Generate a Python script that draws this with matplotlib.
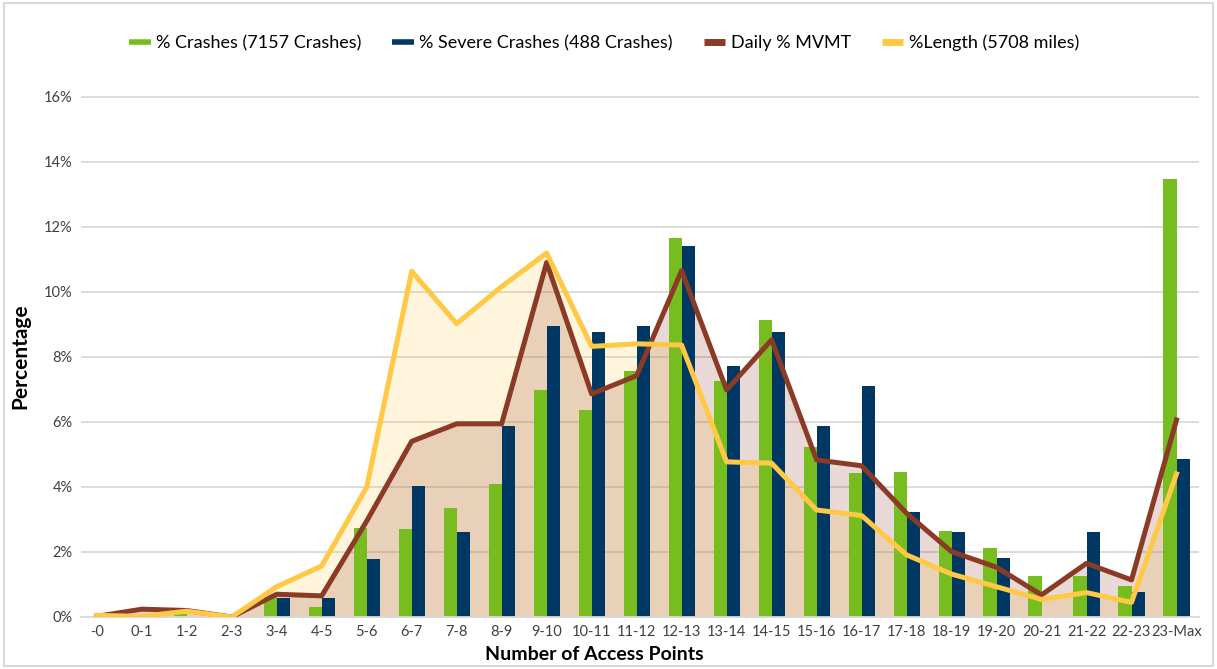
import numpy as np
import matplotlib
matplotlib.use('Agg')
from matplotlib import pyplot as plt
from matplotlib.patches import Rectangle
from matplotlib.lines import Line2D

plt.rcParams['font.family'] = ['Lato', 'DejaVu Sans']

categories = ['-0', '0-1', '1-2', '2-3', '3-4', '4-5', '5-6', '6-7', '7-8', '8-9',
              '9-10', '10-11', '11-12', '12-13', '13-14', '14-15', '15-16', '16-17',
              '17-18', '18-19', '19-20', '20-21', '21-22', '22-23', '23-Max']

# % of values
pct_crashes = [0.0, 0.0, 0.1, 0.0, 0.6, 0.32, 2.75, 2.7, 3.36, 4.09,
               6.97, 6.35, 7.57, 11.66, 7.26, 9.14, 5.24, 4.44,
               4.45, 2.65, 2.11, 1.27, 1.27, 0.95, 13.47]
pct_severe = [0.0, 0.0, 0.0, 0.0, 0.57, 0.57, 1.78, 4.04, 2.6, 5.88,
              8.95, 8.75, 8.95, 11.4, 7.73, 8.75, 5.88, 7.11,
              3.22, 2.6, 1.8, 0.0, 2.6, 0.76, 4.85]
pct_mvmt = [0.02, 0.24, 0.2, 0.0, 0.7, 0.65, 2.95, 5.4, 5.94, 5.94,
            10.9, 6.86, 7.42, 10.65, 6.98, 8.52, 4.83, 4.65,
            3.19, 2.01, 1.53, 0.68, 1.65, 1.14, 6.06]
pct_length = [0.05, 0.02, 0.18, 0.0, 0.93, 1.57, 3.99, 10.63, 9.02, 10.16,
              11.19, 8.32, 8.4, 8.36, 4.77, 4.73, 3.29, 3.12,
              1.91, 1.32, 0.93, 0.54, 0.75, 0.45, 4.4]
labels = ['% Crashes (7157 Crashes)', '% Severe Crashes (488 Crashes)',
          'Daily % MVMT', '%Length (5708 miles)']

green = '#77bd20'
navy = '#003763'
brown = '#8b3a26'
gold = '#ffc845'

x = np.arange(len(categories))
w = 0.29

fig = plt.figure(figsize=(12.17, 6.69), dpi=100)
fig.patches.append(Rectangle((0.003, 0.004), 0.994, 0.992, transform=fig.transFigure,
                             fill=False, edgecolor='#d9d9d9', linewidth=1.5))
ax = fig.add_axes([81/1217, 1-617/669, (1199-81)/1217, (617-95)/669])

ax.fill_between(x, pct_length, color=gold, alpha=0.19, linewidth=0, zorder=1)
ax.fill_between(x, pct_mvmt, color=brown, alpha=0.19, linewidth=0, zorder=1)

ax.bar(x - w/2, pct_crashes, width=w, color=green, zorder=2)
ax.bar(x + w/2, pct_severe, width=w, color=navy, zorder=2)
ax.plot(x, pct_mvmt, color=brown, linewidth=3.6, zorder=3, solid_joinstyle='round')
ax.plot(x, pct_length, color=gold, linewidth=3.6, zorder=3, solid_joinstyle='round')

ax.set_xlim(-0.35, 24.5)
ax.set_ylim(0, 16.05)
ax.set_yticks(np.arange(0, 17, 2))
ax.set_yticklabels(['%d%%' % v for v in range(0, 17, 2)])
ax.set_xticks(x)
ax.set_xticklabels(categories)
ax.tick_params(axis='both', length=0, labelsize=10.5, colors='#404040', pad=6)
ax.grid(axis='y', color='#d9d9d9', linewidth=1.3, zorder=0)
ax.set_axisbelow(True)
for s in ['top', 'right', 'left']:
    ax.spines[s].set_visible(False)
ax.spines['bottom'].set_color('#d9d9d9')
ax.spines['bottom'].set_linewidth(1.3)

fig.text(594/1217, 1-655/669, 'Number of Access Points', fontsize=14, fontweight='bold',
         ha='center', va='center')
ax.set_ylabel('Percentage', fontsize=15, fontweight='bold', labelpad=10)

handles = [Line2D([], [], color=c, linewidth=lw, solid_capstyle='butt')
           for c, lw in [(green, 4), (navy, 4), (brown, 5), (gold, 5)]]
fig.legend(handles, labels, loc='center', bbox_to_anchor=(604/1217, 1-43/669), ncol=4,
           frameon=False, fontsize=13, handlelength=1.2, handletextpad=0.3,
           columnspacing=1.7)

plt.savefig('out.png', dpi=100)
